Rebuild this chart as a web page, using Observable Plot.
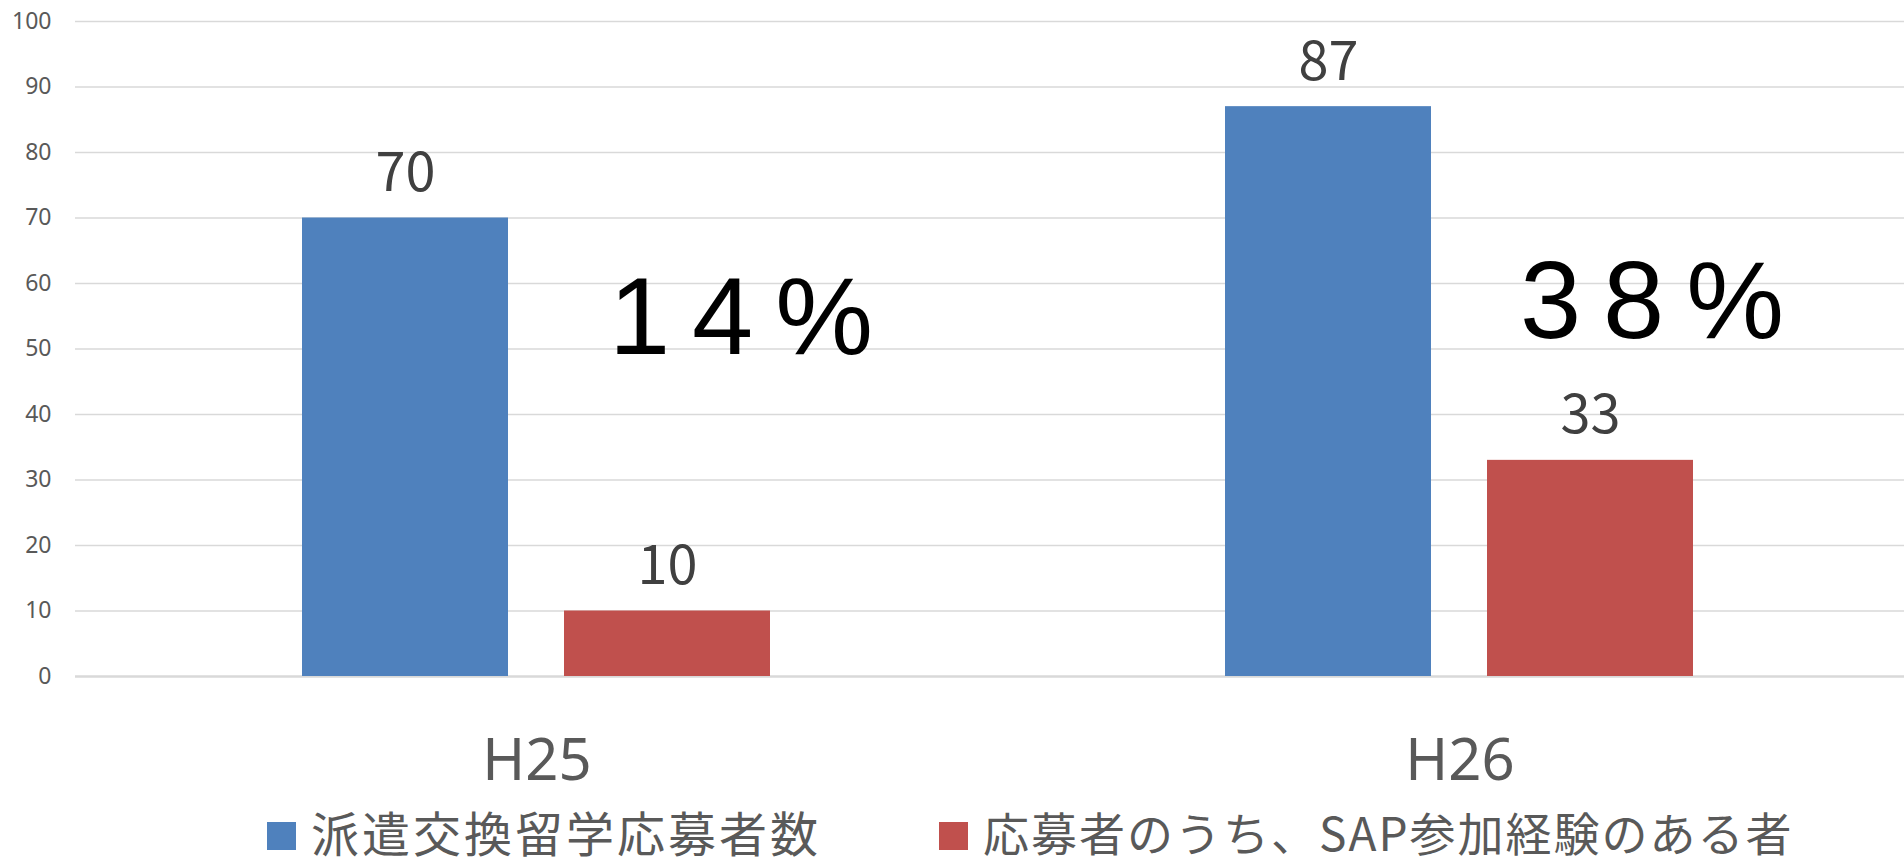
<!DOCTYPE html>
<html><head><meta charset="utf-8">
<script src="https://cdn.jsdelivr.net/npm/d3@7"></script>
<script src="https://cdn.jsdelivr.net/npm/@observablehq/plot@0.6"></script>
<style>
html,body{margin:0;padding:0;background:#fff;overflow:hidden;}
#chart{position:relative;width:1904px;height:865px;}
#legend{position:absolute;left:0;top:805px;width:1904px;height:52px;font-family:"Noto Sans CJK JP";}
.item{position:absolute;top:0;height:52px;line-height:52px;display:flex;align-items:flex-start;white-space:nowrap;color:#595959;}
.sw{width:29px;height:28px;margin-top:17px;margin-right:15px;flex:none;}
</style></head><body><div id="chart"></div>
<script>
const categories = ["H25", "H26"];
const seriesNames = ["派遣交換留学応募者数", "応募者のうち、SAP参加経験のある者"];
const applicants = [70, 87];
const sapApplicants = [10, 33];
const yTicks = [0, 10, 20, 30, 40, 50, 60, 70, 80, 90, 100];
const seriesColors = ["#4F81BD", "#C0504D"];

const rows = [];
categories.forEach((c, i) => {
  rows.push({cat: c, series: seriesNames[0], value: applicants[i]});
  rows.push({cat: c, series: seriesNames[1], value: sapApplicants[i]});
});
const pctRows = categories.map((c, i) => ({cat: c, pct: Math.round(sapApplicants[i] / applicants[i] * 100) + "%"}));

const chart = Plot.plot({
  width: 1904,
  height: 801,
  marginLeft: 74,
  marginRight: -17,
  marginTop: 21,
  marginBottom: 125,
  style: {fontSize: "23px", fontFamily: "Noto Sans", color: "#595959", background: "#fff"},
  fx: {domain: categories, padding: 0, axis: null},
  x: {domain: seriesNames, paddingInner: 0.213, paddingOuter: 0.863, axis: null},
  y: {domain: [0, 100], ticks: yTicks, tickSize: 0, tickPadding: 24, label: null},
  color: {domain: seriesNames, range: seriesColors},
  marks: [
    Plot.ruleY(yTicks.filter(t => t !== 0), {stroke: "#d9d9d9", strokeWidth: 1.5}),
    Plot.ruleY([0], {stroke: "#d9d9d9", strokeWidth: 2.5}),
    Plot.barY(rows, {fx: "cat", x: "series", y: "value", fill: "series"}),
    Plot.text(rows, {fx: "cat", x: "series", y: "value", text: d => String(d.value), lineAnchor: "bottom", dy: -27, fontSize: 54, fill: "#404040", fontFamily: "Noto Sans CJK JP"}),
    Plot.text(categories, {fx: d => d, text: d => d, frameAnchor: "bottom", lineAnchor: "bottom", dy: 103, fontSize: 58, fill: "#595959", fontFamily: "Noto Sans"}),
    Plot.text([pctRows[0]], {fx: "cat", text: "pct", frameAnchor: "middle", lineAnchor: "bottom", dx: 215, dy: 4.5, fontSize: 110, fill: "#000", fontFamily: "Liberation Sans"}),
    Plot.text([pctRows[1]], {fx: "cat", text: "pct", frameAnchor: "middle", lineAnchor: "bottom", dx: 203, dy: -11.5, fontSize: 110, fill: "#000", fontFamily: "Liberation Sans"})
  ]
});
d3.select(chart).selectAll("text")
  .filter(function() { return /%$/.test(this.textContent); })
  .attr("letter-spacing", "22px")
  .style("letter-spacing", "22px");
const host = document.getElementById("chart");
host.appendChild(chart);

const legend = document.createElement("div");
legend.id = "legend";
const legendLeft = [267, 939];
const legendSize = [48, 46];
const legendSpacing = [3, 2];
seriesNames.forEach((name, i) => {
  const item = document.createElement("div");
  item.className = "item";
  item.style.left = legendLeft[i] + "px";
  item.style.fontSize = legendSize[i] + "px";
  item.style.letterSpacing = legendSpacing[i] + "px";
  const sw = document.createElement("span");
  sw.className = "sw";
  sw.style.background = seriesColors[i];
  const label = document.createElement("span");
  label.textContent = name;
  item.appendChild(sw);
  item.appendChild(label);
  legend.appendChild(item);
});
host.appendChild(legend);
</script>
</body></html>
